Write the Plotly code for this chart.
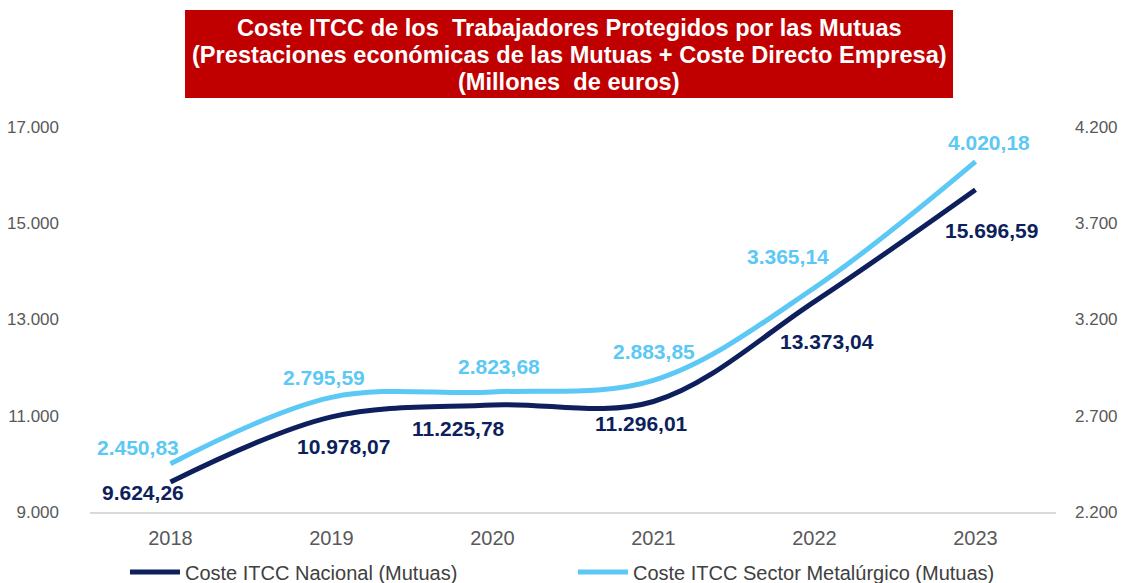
import plotly.graph_objects as go

years = ["2018", "2019", "2020", "2021", "2022", "2023"]
nacional = [9624.26, 10978.07, 11225.78, 11296.01, 13373.04, 15696.59]
metal = [2450.83, 2795.59, 2823.68, 2883.85, 3365.14, 4020.18]
name_nac = "Coste ITCC Nacional (Mutuas)"
name_met = "Coste ITCC Sector Metalúrgico (Mutuas)"
title_lines = ["Coste ITCC de los  Trabajadores Protegidos por las Mutuas",
               "(Prestaciones económicas de las Mutuas + Coste Directo Empresa)",
               "(Millones  de euros)"]

NAVY = "#0D1F5C"
LIGHT = "#5BC8F5"
FONT = "Liberation Sans, Arial, sans-serif"

# page body has an 8px margin: figure pixel = page pixel - 8
W, H = 1119, 575
L, R, T, B = 82, 71, 119, 71
PW, PH = W - L - R, H - T - B


def px(xp):  # page x -> paper
    return (xp - 8 - L) / PW


def py(yp):  # page y -> paper
    return (H - B - (yp - 8)) / PH


# label offsets (pixels) – styling only
nac_dx = [-28, 12, -34, -12, 12, 16]
nac_dy = [-11, -30, -24, -22, -40, -41]
met_dx = [-33, -8, 6, 0, -27, 13]
met_dy = [16, 20, 25, 29, 31, 19]


def fmt(v):
    s = f"{v:,.2f}"
    return s.replace(",", "X").replace(".", ",").replace("X", ".")


fig = go.Figure()
fig.add_trace(go.Scatter(x=years, y=nacional, name=name_nac, mode="lines",
                         line=dict(color=NAVY, width=5, shape="spline", smoothing=1.0),
                         yaxis="y"))
fig.add_trace(go.Scatter(x=years, y=metal, name=name_met, mode="lines",
                         line=dict(color=LIGHT, width=5, shape="spline", smoothing=1.0),
                         yaxis="y2"))

annotations = []
for i, v in enumerate(nacional):
    annotations.append(dict(x=i, y=v, xref="x", yref="y", text="<b>" + fmt(v) + "</b>",
                            showarrow=False, xshift=nac_dx[i], yshift=nac_dy[i],
                            font=dict(family=FONT, size=21, color=NAVY)))
for i, v in enumerate(metal):
    annotations.append(dict(x=i, y=v, xref="x", yref="y2", text="<b>" + fmt(v) + "</b>",
                            showarrow=False, xshift=met_dx[i], yshift=met_dy[i],
                            font=dict(family=FONT, size=21, color=LIGHT)))

# title box
shapes = [dict(type="rect", xref="paper", yref="paper",
               x0=px(185), x1=px(953), y0=py(98), y1=py(10),
               fillcolor="#C00000", line=dict(width=0), layer="above")]
for k, line in enumerate(title_lines):
    annotations.append(dict(xref="paper", yref="paper", x=px(569), y=py(28 + 27 * k),
                            text="<b>" + line + "</b>", showarrow=False,
                            xanchor="center", yanchor="middle",
                            font=dict(family=FONT, size=23.6, color="white")))

fig.update_layout(
    width=W, height=H,
    margin=dict(l=L, r=R, t=T, b=B, autoexpand=False),
    paper_bgcolor="white", plot_bgcolor="white",
    separators=",.",
    showlegend=True,
    legend=dict(orientation="h", x=px(125), xanchor="left",
                y=py(572), yanchor="middle",
                font=dict(family=FONT, size=20, color="#404040"),
                entrywidth=383, entrywidthmode="pixels",
                itemwidth=50, tracegroupgap=0),
    xaxis=dict(type="category", range=[-0.5, 5.5], showgrid=False,
               showline=True, linecolor="#D9D9D9", linewidth=2,
               ticks="", tickfont=dict(family=FONT, size=20, color="#595959"),
               ticklabelstandoff=7),
    yaxis=dict(range=[9000, 17000], tickvals=[9000, 11000, 13000, 15000, 17000],
               tickformat=",.0f", showgrid=False, zeroline=False, showline=False,
               tickfont=dict(family=FONT, size=17, color="#595959"),
               ticklabelstandoff=30),
    yaxis2=dict(range=[2200, 4200], tickvals=[2200, 2700, 3200, 3700, 4200],
                tickformat=",.0f", overlaying="y", side="right", showgrid=False,
                zeroline=False, showline=False,
                tickfont=dict(family=FONT, size=17, color="#595959"),
                ticklabelstandoff=18),
    shapes=shapes,
    annotations=annotations,
)

fig.write_html("out.html")
